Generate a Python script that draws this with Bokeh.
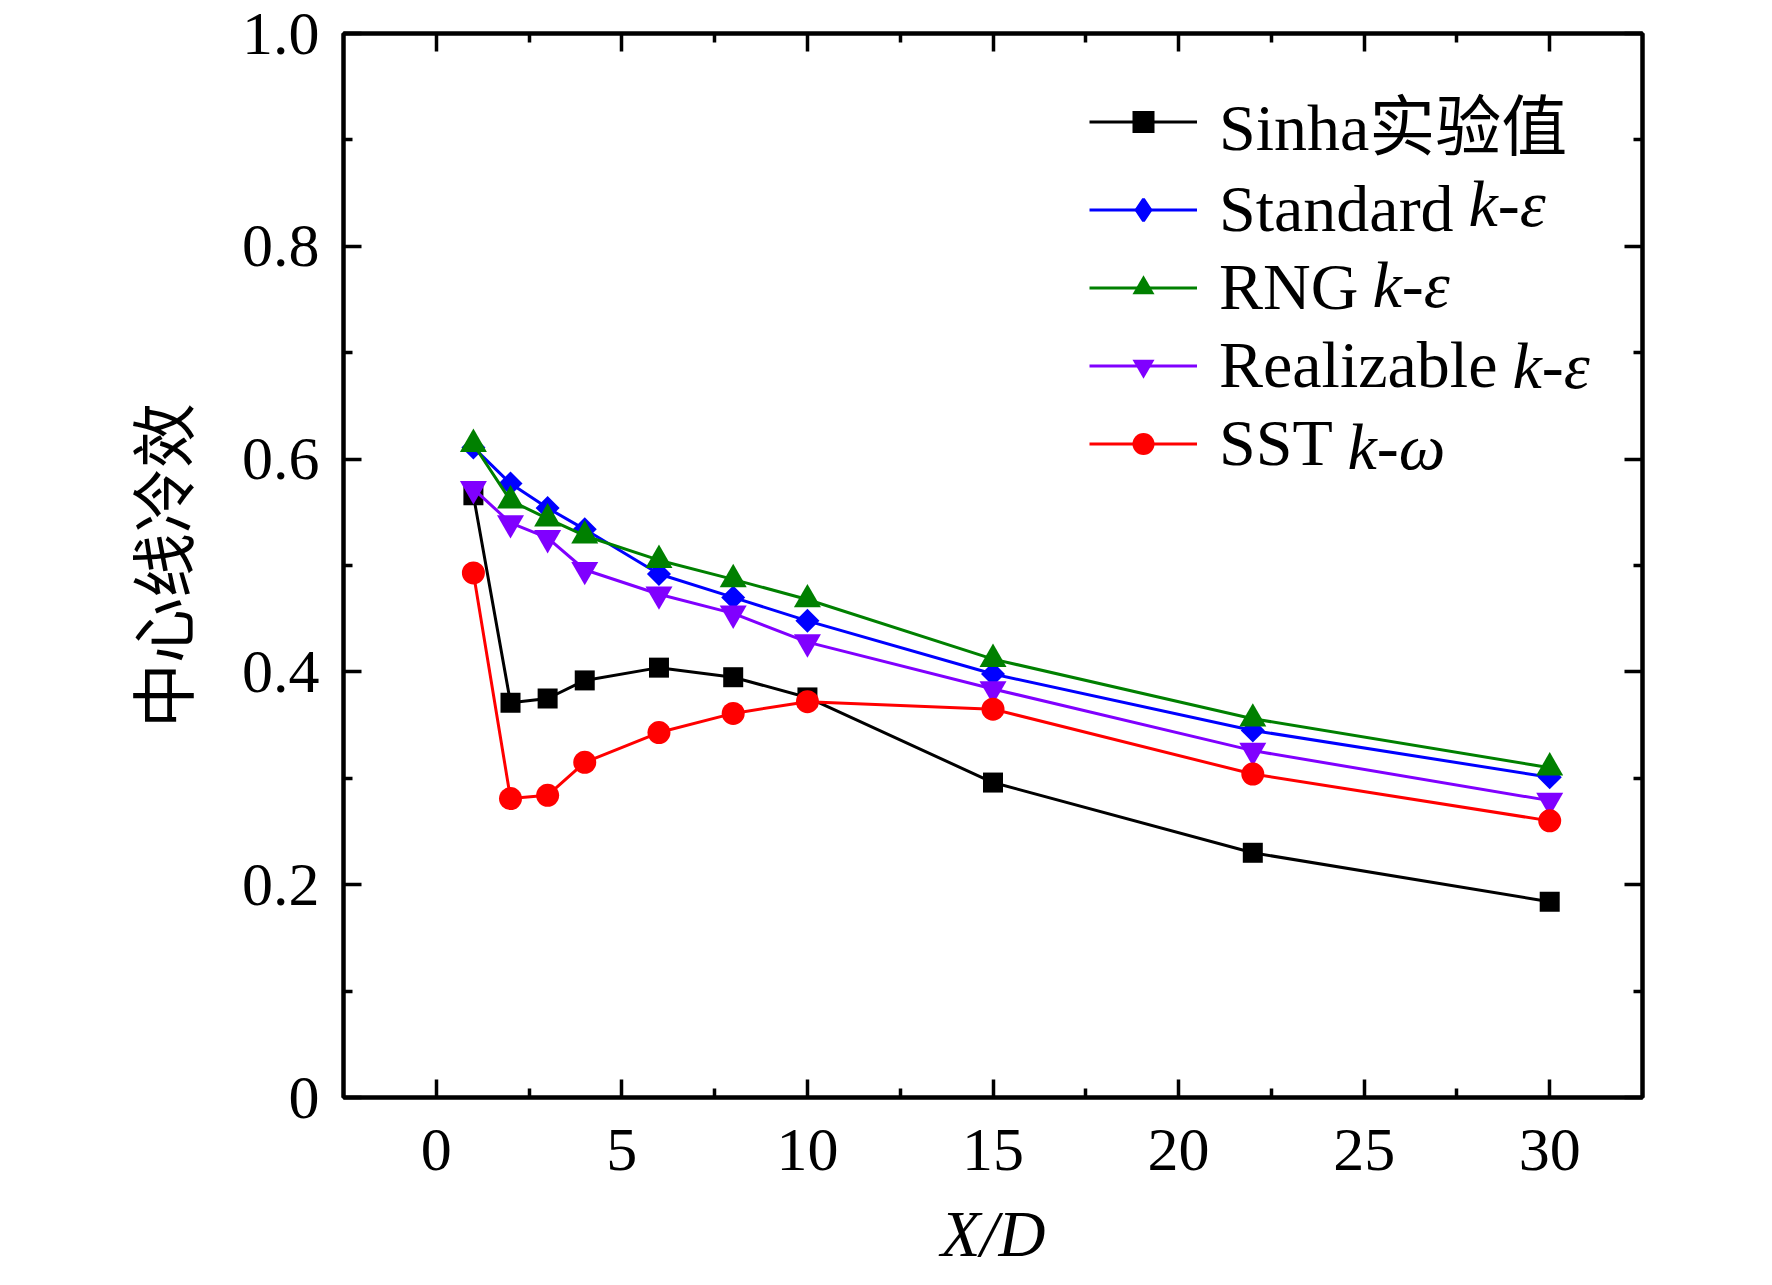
import numpy as np
from bokeh.plotting import figure
from bokeh.models import Range1d, FixedTicker, LinearAxis, Legend, LegendItem, Label, Title
from bokeh.embed import file_html
from bokeh.resources import INLINE

# ---------------- data ----------------
x_d = [1, 2, 3, 4, 6, 8, 10, 15, 22, 30]
sinha = [0.566, 0.371, 0.375, 0.392, 0.404, 0.395, 0.376, 0.296, 0.230, 0.184]
standard_ke = [0.611, 0.577, 0.554, 0.534, 0.492, 0.470, 0.448, 0.398, 0.345, 0.301]
rng_ke = [0.614, 0.561, 0.544, 0.528, 0.505, 0.487, 0.468, 0.412, 0.356, 0.310]
realizable_ke = [0.572, 0.540, 0.526, 0.496, 0.473, 0.455, 0.428, 0.384, 0.326, 0.279]
sst_kw = [0.493, 0.281, 0.284, 0.315, 0.343, 0.361, 0.372, 0.365, 0.304, 0.260]

series_labels = ["Sinha实验值", "Standard", "RNG", "Realizable", "SST"]
series_italic = ["", "k-ε", "k-ε", "k-ε", "k-ω"]
x_ticks = [0, 5, 10, 15, 20, 25, 30]
x_minor = [2.5, 7.5, 12.5, 17.5, 22.5, 27.5]
y_ticks = [0, 0.2, 0.4, 0.6, 0.8, 1.0]
y_tick_labels = ["0", "0.2", "0.4", "0.6", "0.8", "1.0"]
y_minor = [0.1, 0.3, 0.5, 0.7, 0.9]
x_label = "X/D"
y_label = "中心线冷效"

# ---------------- layout ----------------
FL, FT, FW, FH = 343, 33, 1299, 1064
XR = (-2.5, 32.5)
YR = (0.0, 1.0)

p = figure(frame_width=FW, frame_height=FH,
           min_border_left=FL, min_border_right=120,
           min_border_top=FT, min_border_bottom=180,
           x_range=Range1d(*XR), y_range=Range1d(*YR),
           output_backend="svg", toolbar_location=None,
           background_fill_color="white", border_fill_color="white")
p.xgrid.visible = False
p.ygrid.visible = False
p.outline_line_color = "black"
p.outline_line_width = 4

SERIF = "Liberation Serif"


def style_axis(ax, ticker, show_labels):
    ax.ticker = ticker
    ax.axis_line_color = "black"
    ax.axis_line_width = 4
    ax.major_tick_in = 18
    ax.major_tick_out = 0
    ax.minor_tick_in = 9
    ax.minor_tick_out = 0
    ax.major_tick_line_width = 3.5
    ax.minor_tick_line_width = 3.5
    ax.major_tick_line_color = "black"
    ax.minor_tick_line_color = "black"
    ax.major_label_text_font = SERIF
    ax.major_label_text_color = "black"
    if show_labels:
        ax.major_label_text_font_size = "62px"
    else:
        ax.major_label_text_font_size = "0px"
        ax.major_label_text_alpha = 0


xt = FixedTicker(ticks=x_ticks, minor_ticks=x_minor)
yt = FixedTicker(ticks=y_ticks, minor_ticks=y_minor)

xa = p.xaxis[0]
ya = p.yaxis[0]
style_axis(xa, xt, True)
style_axis(ya, yt, True)
xa.major_label_standoff = 32
xa.major_label_text_line_height = 0.9
ya.major_label_standoff = 24
ya.major_label_overrides = {t: s for t, s in zip(y_ticks, y_tick_labels)}

ya.axis_label = y_label
ya.axis_label_text_font = "Noto Sans CJK SC"
ya.axis_label_text_font_style = "normal"
ya.axis_label_text_font_size = "65px"
ya.axis_label_text_color = "black"
ya.axis_label_standoff = 32

top = LinearAxis()
right = LinearAxis()
style_axis(top, FixedTicker(ticks=x_ticks, minor_ticks=x_minor), False)
style_axis(right, FixedTicker(ticks=y_ticks, minor_ticks=y_minor), False)
p.add_layout(top, "above")
p.add_layout(right, "right")

# x-axis title (italic) as a panel below the tick labels
p.add_layout(Title(text=x_label, align="center", text_font=SERIF,
                   text_font_style="italic", text_font_size="65px",
                   text_line_height=0.8,
                   text_color="black", standoff=47, offset=0), "below")


def px_to_x(px):
    return XR[0] + (px - FL) / FW * (XR[1] - XR[0])


def py_to_y(py):
    return YR[0] + (FT + FH - py) / FH * (YR[1] - YR[0])


# ---------------- series ----------------
all_series = [sinha, standard_ke, rng_ke, realizable_ke, sst_kw]
colors = ["#000000", "#0000FF", "#008000", "#8000FF", "#FF0000"]
markers = ["square", "square", "triangle", "inverted_triangle", "circle"]
legend_markers = ["square", "diamond", "triangle", "inverted_triangle", "circle"]
sizes = [20, 17, 27, 27, 23]
angles = [0, np.pi / 4, 0, 0, 0]

items = []
for lab, ys, col, mk, lmk, sz, ang in zip(series_labels, all_series, colors,
                                          markers, legend_markers, sizes, angles):
    ln = p.line(x_d, ys, line_color=col, line_width=3)
    sc = p.scatter(x_d, ys, marker=mk, size=sz, angle=ang,
                   fill_color=col, line_color=None)
    if lmk != mk:
        # legend-only sample with the diamond shape (no visible points)
        lg = p.scatter([np.nan], [np.nan], marker=lmk, size=sz,
                       fill_color=col, line_color=col, line_width=3)
        items.append(LegendItem(label=lab, renderers=[ln, lg]))
    else:
        items.append(LegendItem(label=lab, renderers=[ln, sc]))

legend = Legend(items=items, location=(746, 616), padding=0, margin=0,
                border_line_color=None, background_fill_alpha=0,
                glyph_width=108, glyph_height=55, label_height=55,
                label_standoff=22, spacing=2,
                label_text_font="'Liberation Serif', 'Noto Sans CJK SC'",
                label_text_font_size="66px", label_text_color="black")
p.add_layout(legend)

# italic parts of the legend labels
italic_px = [None, 1468, 1372, 1512, 1347]
for i, (txt, xp) in enumerate(zip(series_italic, italic_px)):
    if not txt:
        continue
    p.add_layout(Label(x=px_to_x(xp), y=py_to_y(122 + 81 * i), text=txt,
                       text_font=SERIF, text_font_style="italic",
                       text_font_size="66px", text_baseline="middle",
                       text_align="left", text_color="black"))

open("out.html", "w").write(file_html(p, INLINE))
